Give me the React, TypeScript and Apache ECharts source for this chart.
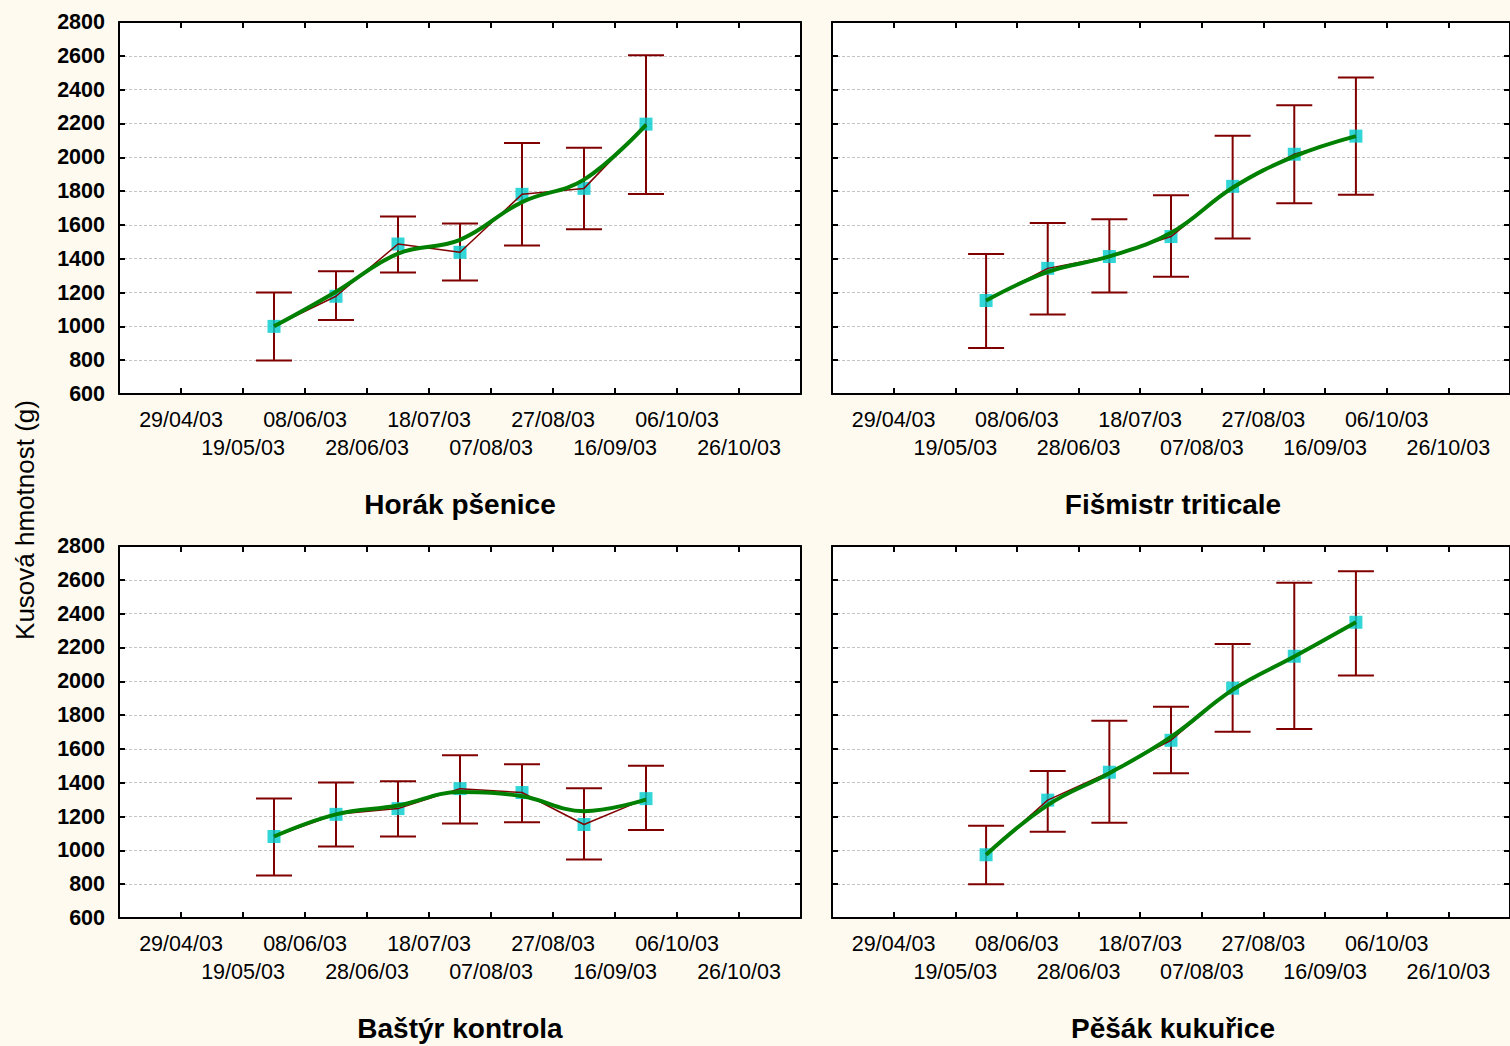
import React, { useEffect, useRef } from "react";
import * as echarts from "echarts";

// ---- data ----
const axisStart = "2003-04-09";
const axisEnd = "2003-11-15";
const sampleDates = ["2003-05-29", "2003-06-18", "2003-07-08", "2003-07-28", "2003-08-17", "2003-09-06", "2003-09-26"];
const xTickLabels = ["", "29/04/03", "19/05/03", "08/06/03", "28/06/03", "18/07/03", "07/08/03", "27/08/03", "16/09/03", "06/10/03", "26/10/03", ""];
const yTicks = [600, 800, 1000, 1200, 1400, 1600, 1800, 2000, 2200, 2400, 2600, 2800];

const horakMean = [1000, 1178, 1487, 1438, 1781, 1816, 2196];
const horakLow = [798, 1037, 1318, 1271, 1478, 1574, 1783];
const horakHigh = [1200, 1326, 1649, 1609, 2084, 2056, 2604];
const horakFit = [1000, 1205, 1430, 1512, 1735, 1868, 2192];

const fismistrMean = [1153, 1343, 1413, 1531, 1828, 2018, 2125];
const fismistrLow = [872, 1070, 1201, 1294, 1520, 1728, 1779];
const fismistrHigh = [1428, 1612, 1634, 1775, 2127, 2307, 2472];
const fismistrFit = [1153, 1322, 1414, 1553, 1820, 2005, 2125];

const bastyrMean = [1082, 1213, 1247, 1365, 1342, 1153, 1306];
const bastyrLow = [852, 1023, 1082, 1159, 1167, 946, 1121];
const bastyrHigh = [1306, 1402, 1408, 1562, 1509, 1367, 1501];
const bastyrFit = [1082, 1213, 1265, 1345, 1320, 1232, 1300];

const pesakMean = [974, 1297, 1462, 1651, 1959, 2148, 2349];
const pesakLow = [800, 1110, 1164, 1456, 1701, 1718, 2034];
const pesakHigh = [1146, 1469, 1766, 1850, 2221, 2583, 2651];
const pesakFit = [974, 1268, 1456, 1671, 1949, 2146, 2349];

const panelNames = ["Horák pšenice", "Fišmistr triticale", "Baštýr kontrola", "Pěšák kukuřice"];
const yTitle = "Kusová hmotnost (g)";

// ---- helpers ----
const DAY = 86400000;
const toDay = (s: string) => (Date.parse(s + "T00:00:00Z") - Date.parse(axisStart + "T00:00:00Z")) / DAY;

const FONT = '"Liberation Sans", Arial, sans-serif';
const BG = "#fefaf0";
const RED = "#800000";
const GREEN = "#008000";
const CYAN = "#00cccc";

export default function App() {
  const ref = useRef<HTMLDivElement>(null);

  useEffect(() => {
    if (!ref.current) return;
    const chart = echarts.init(ref.current, undefined, { renderer: "svg" });

    const panels = [
      { name: panelNames[0], mean: horakMean, low: horakLow, high: horakHigh, fit: horakFit, left: 119, top: 22, yLabels: true },
      { name: panelNames[1], mean: fismistrMean, low: fismistrLow, high: fismistrHigh, fit: fismistrFit, left: 832, top: 22, yLabels: false },
      { name: panelNames[2], mean: bastyrMean, low: bastyrLow, high: bastyrHigh, fit: bastyrFit, left: 119, top: 546, yLabels: true },
      { name: panelNames[3], mean: pesakMean, low: pesakLow, high: pesakHigh, fit: pesakFit, left: 832, top: 546, yLabels: false },
    ];
    const W = 682;
    const H = 372;
    const xMax = toDay(axisEnd);
    const xs = sampleDates.map(toDay);

    const grid: any[] = [];
    const xAxis: any[] = [];
    const yAxis: any[] = [];
    const series: any[] = [];
    const graphic: any[] = [];

    const axisLine = { show: true, onZero: false, lineStyle: { color: "#000", width: 2 } };
    const axisTick = { show: true, inside: true, length: 6, lineStyle: { color: "#000", width: 2 } };

    panels.forEach((p, i) => {
      grid.push({ left: p.left, top: p.top, width: W, height: H, show: true, backgroundColor: "#ffffff", borderWidth: 0 });
      // bottom x
      xAxis.push({
        type: "value", gridIndex: i, position: "bottom", min: 0, max: xMax, interval: 20,
        axisLine, axisTick, splitLine: { show: false },
        axisLabel: {
          show: true, margin: 12, color: "#000", fontSize: 21.5, fontFamily: FONT, lineHeight: 28,
          verticalAlign: "top", showMinLabel: false, showMaxLabel: false,
          formatter: (v: number) => {
            const k = Math.round(v / 20);
            const t = xTickLabels[k];
            if (!t) return "";
            return k % 2 === 1 ? t : "\n" + t;
          },
        },
      });
      // top x
      xAxis.push({
        type: "value", gridIndex: i, position: "top", min: 0, max: xMax, interval: 20,
        axisLine, axisTick, splitLine: { show: false }, axisLabel: { show: false },
      });
      // left y
      yAxis.push({
        type: "value", gridIndex: i, position: "left", min: yTicks[0], max: yTicks[yTicks.length - 1], interval: 200,
        axisLine, axisTick,
        splitLine: { show: true, lineStyle: { color: "#c4c4c4", width: 1, type: [3, 2] } },
        axisLabel: {
          show: p.yLabels, margin: 14, color: "#000", fontSize: 21.5, fontWeight: "bold", fontFamily: FONT,
          formatter: (v: number) => String(v),
        },
      });
      // right y
      yAxis.push({
        type: "value", gridIndex: i, position: "right", min: yTicks[0], max: yTicks[yTicks.length - 1], interval: 200,
        axisLine, axisTick, splitLine: { show: false }, axisLabel: { show: false },
      });

      const xi = i * 2;
      const yi = i * 2;

      series.push({
        type: "custom", xAxisIndex: xi, yAxisIndex: yi, z: 2,
        data: xs.map((x, k) => [x, p.low[k], p.high[k]]),
        encode: { x: 0, y: [1, 2] },
        renderItem: (_params: any, api: any) => {
          const x = api.value(0);
          const pl = api.coord([x, api.value(1)]);
          const ph = api.coord([x, api.value(2)]);
          const hw = 18;
          const st = { stroke: RED, lineWidth: 2 };
          return {
            type: "group",
            children: [
              { type: "line", shape: { x1: ph[0], y1: ph[1], x2: pl[0], y2: pl[1] }, style: st },
              { type: "line", shape: { x1: ph[0] - hw, y1: ph[1], x2: ph[0] + hw, y2: ph[1] }, style: st },
              { type: "line", shape: { x1: pl[0] - hw, y1: pl[1], x2: pl[0] + hw, y2: pl[1] }, style: st },
            ],
          };
        },
      });
      series.push({
        type: "scatter", xAxisIndex: xi, yAxisIndex: yi, z: 3,
        symbol: "rect", symbolSize: 13, itemStyle: { color: CYAN },
        data: xs.map((x, k) => [x, p.mean[k]]),
      });
      series.push({
        type: "line", xAxisIndex: xi, yAxisIndex: yi, z: 4,
        showSymbol: false, symbol: "none", lineStyle: { color: RED, width: 1.5 },
        data: xs.map((x, k) => [x, p.mean[k]]),
      });
      series.push({
        type: "line", xAxisIndex: xi, yAxisIndex: yi, z: 5, smooth: 0.4,
        showSymbol: false, symbol: "none", lineStyle: { color: GREEN, width: 4 },
        data: xs.map((x, k) => [x, p.fit[k]]),
      });

      graphic.push({
        type: "text", x: p.left + W / 2, y: p.top + H + 110,
        style: { text: p.name, font: `bold 28px ${FONT}`, fill: "#000", textAlign: "center", textVerticalAlign: "middle" },
      });
    });

    graphic.push({
      type: "text", x: 25, y: 520, rotation: Math.PI / 2,
      style: { text: yTitle, font: `26px ${FONT}`, fill: "#000", textAlign: "center", textVerticalAlign: "middle" },
    });

    chart.setOption({
      animation: false,
      backgroundColor: BG,
      textStyle: { fontFamily: FONT },
      grid, xAxis, yAxis, series, graphic,
    });

    return () => chart.dispose();
  }, []);

  return <div ref={ref} style={{ position: "fixed", left: 0, top: 0, width: 1510, height: 1046 }} />;
}
